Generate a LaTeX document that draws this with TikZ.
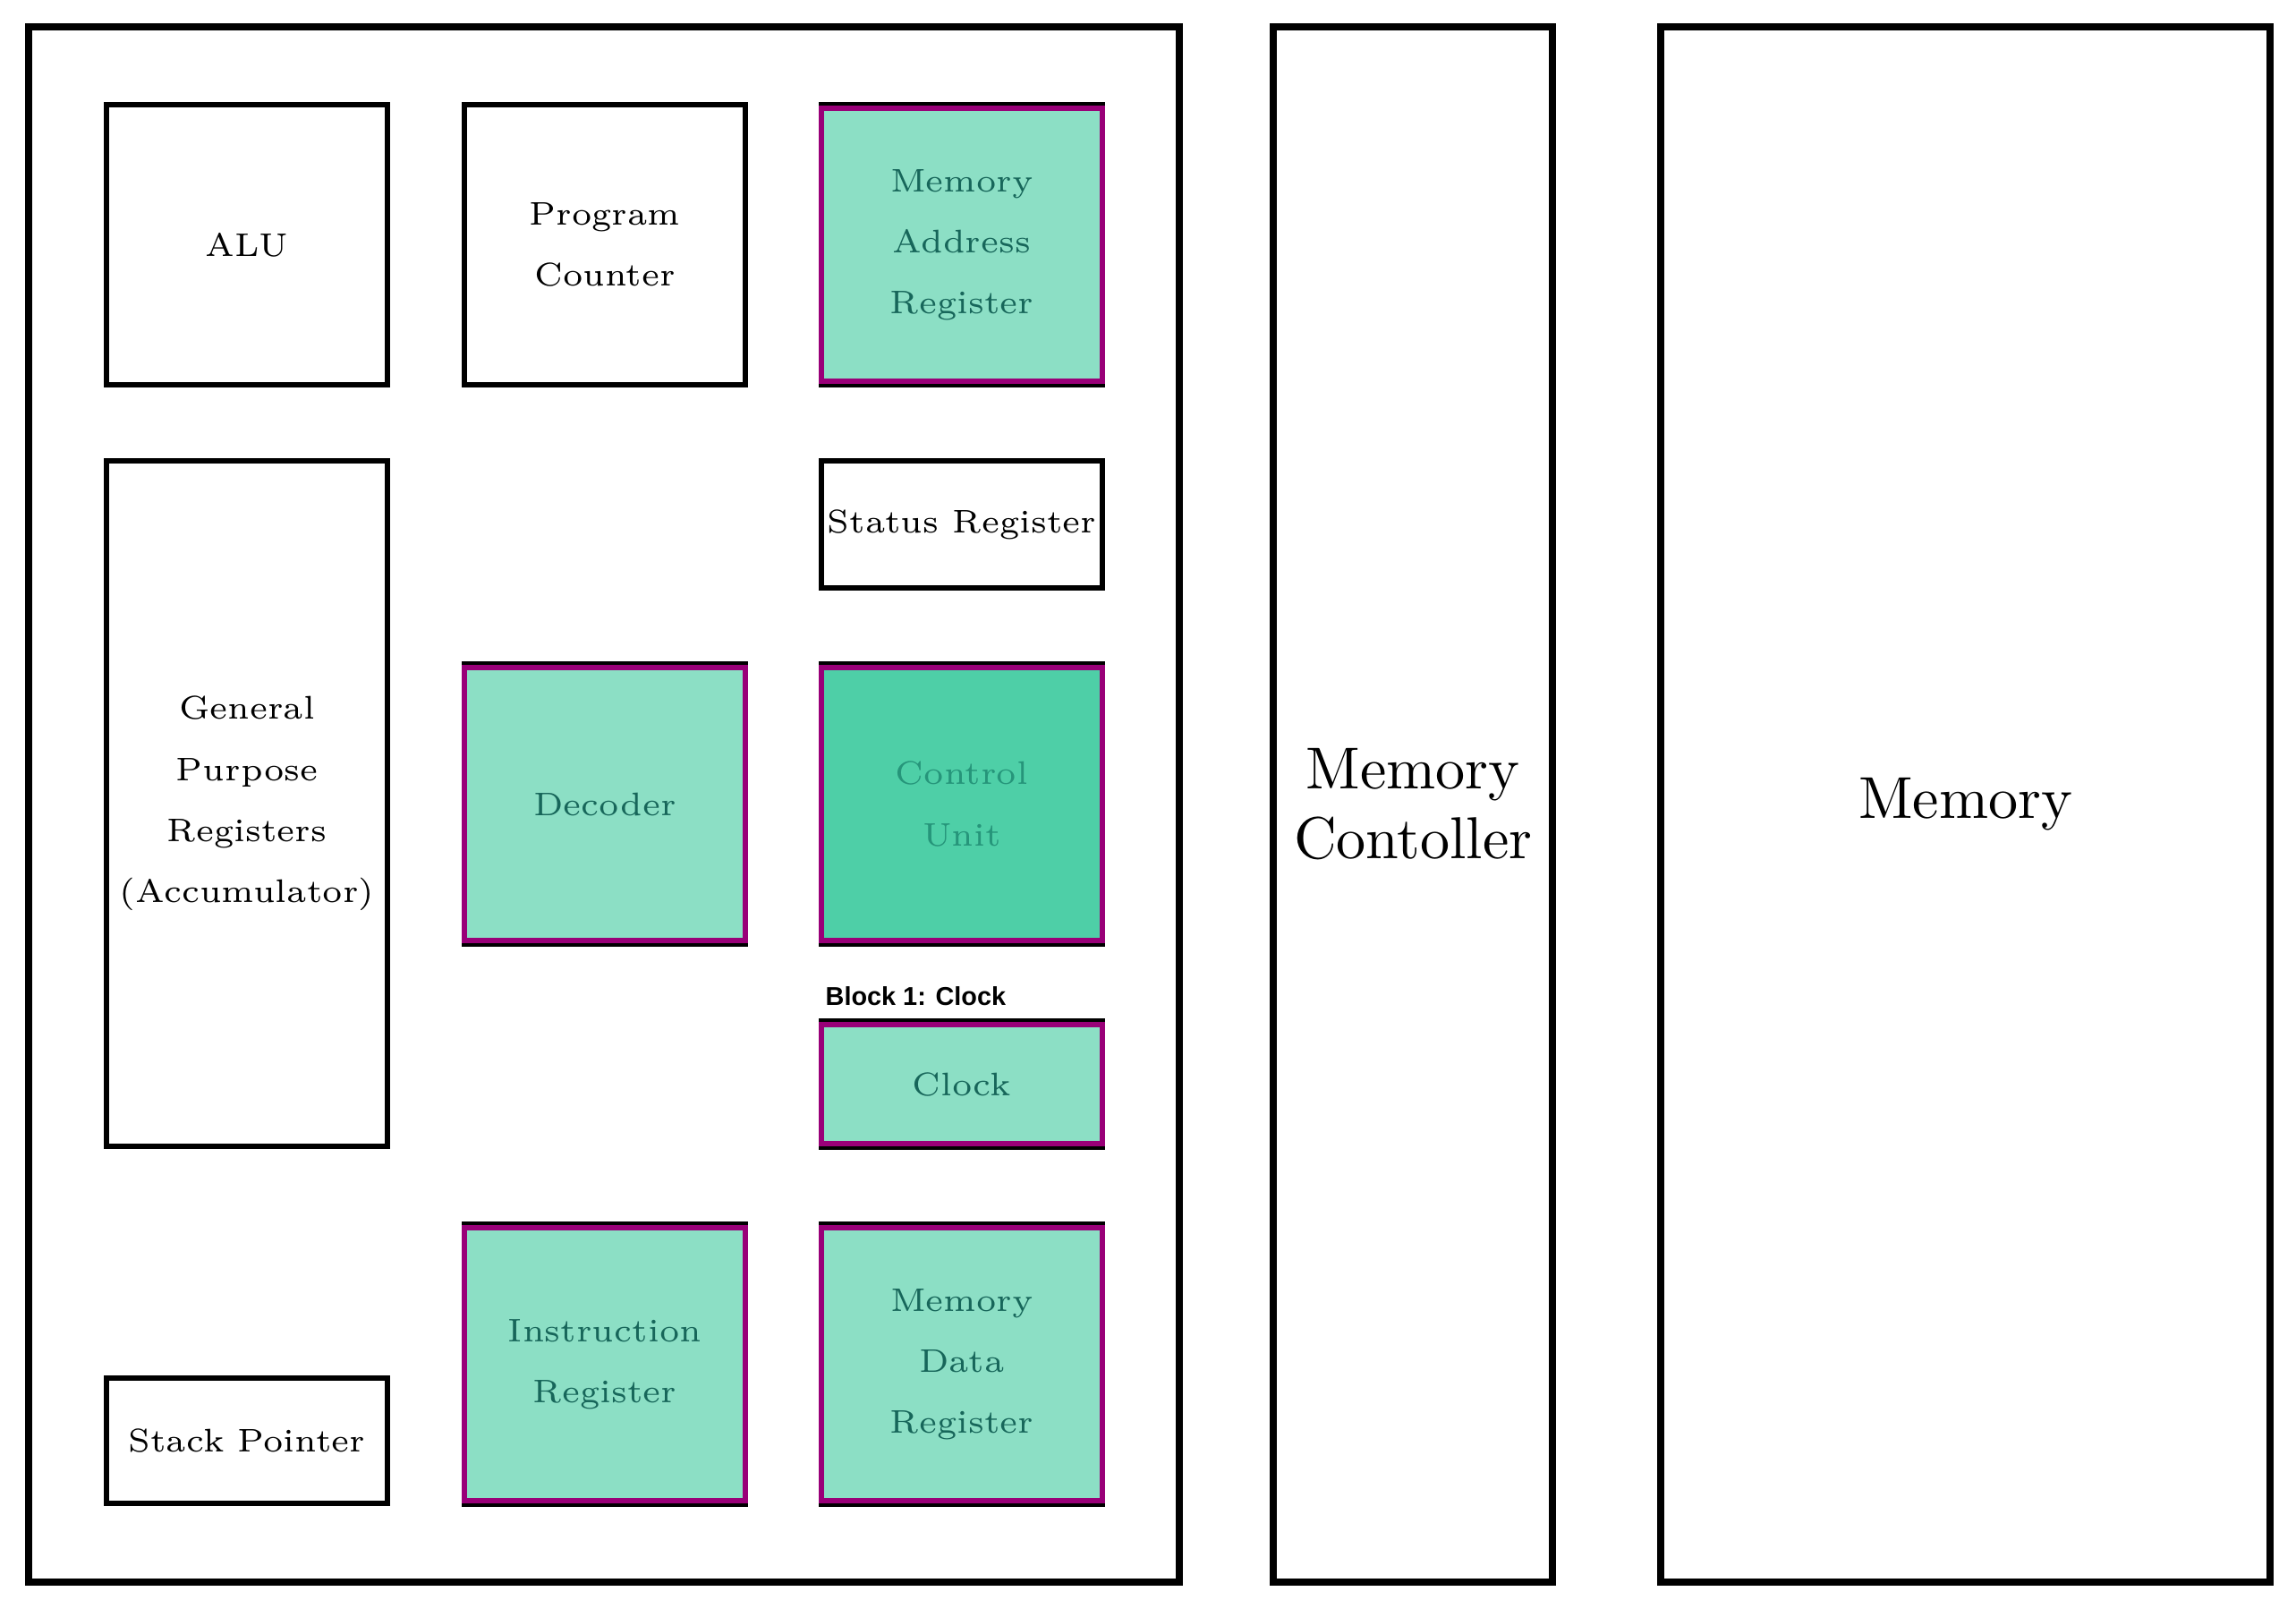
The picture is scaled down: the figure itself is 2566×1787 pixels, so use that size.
\documentclass[tikz,border=0pt]{standalone}
\usepackage{fontspec}
\newfontfamily\blockfont{Liberation Sans}
\newfontfamily\smallfam[Extension=.otf]{lmroman6-regular}
\newfontfamily\bigfam[Extension=.otf]{lmroman10-regular}
\newcommand\lblfont{\smallfam\fontsize{10.4}{19.4}\selectfont}
\newcommand\bigfont{\bigfam\fontsize{18.8}{22}\selectfont}
\definecolor{lightfill}{HTML}{8CDFC5}
\definecolor{ctrlfill}{HTML}{4ECFA7}
\definecolor{magbord}{HTML}{990078}
\definecolor{tealtext}{HTML}{17665A}
\definecolor{ctrltext}{HTML}{26957A}
\tikzset{
  outerbox/.style={draw, line width=0.08cm, inner sep=0pt, outer sep=0pt, align=center, font=\bigfont},
  plainbox/.style={draw, line width=0.06cm, inner sep=0pt, outer sep=0pt, fill=white,
    align=center, font=\lblfont, minimum width=3.14cm, minimum height=3.13cm},
  colbox/.style={plainbox, fill=lightfill, text=tealtext},
  magline/.style={draw=magbord, line width=0.06cm},
  blocklabel/.style={anchor=base west, inner sep=0pt, font=\blockfont\bfseries\fontsize{8.2}{10}\selectfont}
}
\begin{document}
\begin{tikzpicture}[x=0.01cm,y=-0.01cm]
\useasboundingbox (0,0) rectangle (2566,1787);
% big containers
\node[outerbox, minimum width=12.85cm, minimum height=17.365cm] (cpu) at (675,898.75) {};
\node[outerbox, minimum width=3.115cm, minimum height=17.365cm] (mc) at (1579.25,898.75) {Memory\\Contoller};
\node[outerbox, minimum width=6.81cm, minimum height=17.365cm] (mem) at (2196.5,898.75) {Memory};
% CPU parts
\node[plainbox] (alu) at (276,273.5) {ALU};
\node[plainbox] (pc) at (676,273.5) {Program\\Counter};
\node[colbox] (mar) at (1075,273.5) {Memory\\Address\\Register};
\node[plainbox, minimum height=1.41cm] (sr) at (1075,586) {Status Register};
\node[plainbox, minimum height=7.66cm] (gpr) at (276,898) {General\\Purpose\\Registers\\(Accumulator)};
\node[colbox] (dec) at (676,898.5) {Decoder};
\node[colbox, fill=ctrlfill, text=ctrltext] (cu) at (1075,898.5) {Control\\Unit};
\node[colbox, minimum height=1.41cm] (clk) at (1075,1211.5) {Clock};
\node[plainbox, minimum height=1.40cm] (sp) at (276,1610) {Stack Pointer};
\node[colbox] (ir) at (676,1524.5) {Instruction\\Register};
\node[colbox] (mdr) at (1075,1524.5) {Memory\\Data\\Register};
\foreach \n in {mar,dec,cu,clk,ir,mdr}{
  \draw[magline] ([yshift=-0.04cm]\n.north west) rectangle ([yshift=0.04cm]\n.south east);
}
\node[blocklabel] (blk) at (922,1123) {Block 1: Clock};
\end{tikzpicture}
\end{document}
